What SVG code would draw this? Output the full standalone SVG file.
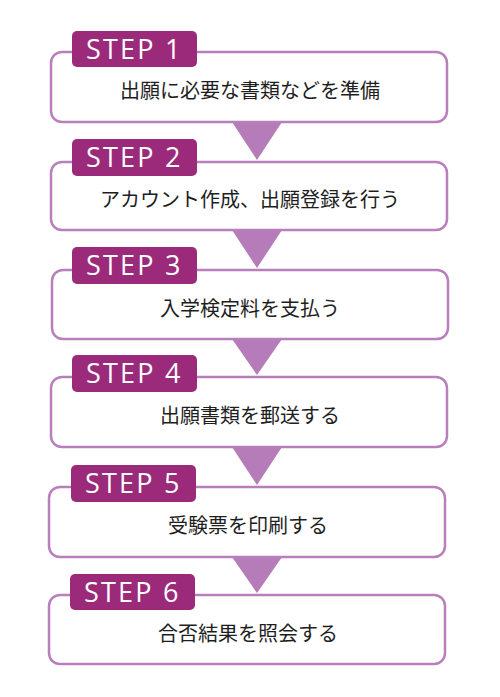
<svg xmlns="http://www.w3.org/2000/svg" width="500" height="697" viewBox="0 0 500 697">
<style>
.box{fill:#ffffff;stroke:#b97fbd;stroke-width:2.5}
.tag{fill:#9b2a7b}
.tagt{fill:#ffffff;font-family:"Open Sans","Noto Sans",sans-serif;font-size:27px;letter-spacing:2.2px}
.body{fill:#1e1e1e;font-family:"Noto Sans CJK JP","Noto Sans CJK SC",sans-serif;font-size:20px;text-anchor:middle}
.arr{fill:#b57cb9}
</style>
<rect width="500" height="697" fill="#ffffff"/>
<g id="connectors">
<polygon class="arr" points="232,122 282,122 257,160"/>
<polygon class="arr" points="232,230 282,230 257,268"/>
<polygon class="arr" points="232,339 282,339 257,375"/>
<polygon class="arr" points="232,447 282,447 257,485"/>
<polygon class="arr" points="232,557 282,557 257,593"/>
</g>
<g id="step1">
<rect class="box" x="51" y="52" width="396" height="70" rx="11"/>
<rect class="tag" x="72" y="31" width="125" height="36" rx="5"/>
<text class="tagt" x="86" y="59">STEP 1</text>
<text class="body" x="250" y="98">出願に必要な書類などを準備</text>
</g>
<g id="step2">
<rect class="box" x="51" y="162" width="396" height="68" rx="11"/>
<rect class="tag" x="72" y="139" width="125" height="37" rx="5"/>
<text class="tagt" x="86" y="167">STEP 2</text>
<text class="body" x="250" y="207">アカウント作成、出願登録を行う</text>
</g>
<g id="step3">
<rect class="box" x="52" y="270" width="396" height="69" rx="11"/>
<rect class="tag" x="72" y="247" width="125" height="37" rx="5"/>
<text class="tagt" x="86" y="275">STEP 3</text>
<text class="body" x="250" y="316">入学検定料を支払う</text>
</g>
<g id="step4">
<rect class="box" x="51" y="377" width="396" height="70" rx="11"/>
<rect class="tag" x="72" y="355" width="125" height="37" rx="5"/>
<text class="tagt" x="86" y="383">STEP 4</text>
<text class="body" x="250" y="423">出願書類を郵送する</text>
</g>
<g id="step5">
<rect class="box" x="49" y="487" width="396" height="70" rx="11"/>
<rect class="tag" x="71" y="465" width="125" height="37" rx="5"/>
<text class="tagt" x="85" y="493">STEP 5</text>
<text class="body" x="248" y="533">受験票を印刷する</text>
</g>
<g id="step6">
<rect class="box" x="49" y="595" width="396" height="69" rx="11"/>
<rect class="tag" x="70" y="574" width="125" height="36" rx="5"/>
<text class="tagt" x="84" y="602">STEP 6</text>
<text class="body" x="248" y="641">合否結果を照会する</text>
</g>
</svg>
